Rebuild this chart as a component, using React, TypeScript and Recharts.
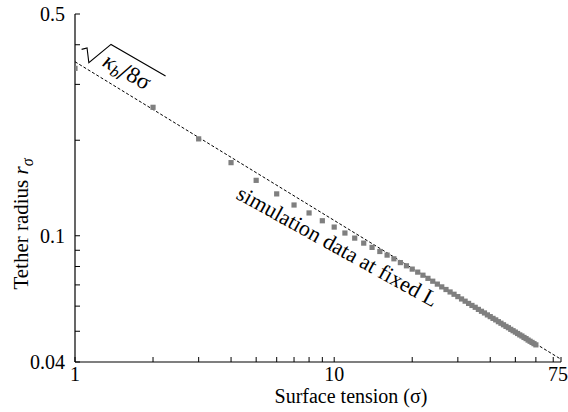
import React from 'react';
import { ComposedChart, XAxis, YAxis, Scatter, Line, ReferenceDot } from 'recharts';

const sigmaValues = [
  1, 2, 3, 4, 5, 6, 7, 8, 9, 10, 11, 12, 13, 14, 15, 16, 17, 18, 19, 20,
  21, 22, 23, 24, 25, 26, 27, 28, 29, 30, 31, 32, 33, 34, 35, 36, 37, 38, 39, 40,
  41, 42, 43, 44, 45, 46, 47, 48, 49, 50, 51, 52, 53, 54, 55, 56, 57, 58, 59, 60,
];
const radiusValues = [
  0.337, 0.254, 0.202, 0.170, 0.1495, 0.1355, 0.125, 0.118, 0.1115, 0.1065,
  0.102, 0.0983, 0.0948, 0.0919, 0.0892, 0.0869, 0.0846, 0.0823, 0.0804, 0.0785,
  0.0768, 0.0751, 0.0734, 0.0719, 0.0704, 0.069, 0.0677, 0.0665, 0.0654, 0.0643,
  0.0632, 0.0622, 0.0612, 0.0603, 0.0595, 0.0586, 0.0578, 0.0571, 0.0563, 0.0556,
  0.0549, 0.0543, 0.0536, 0.053, 0.0524, 0.0518, 0.0513, 0.0507, 0.0502, 0.0497,
  0.0492, 0.0487, 0.0483, 0.0478, 0.0474, 0.0469, 0.0465, 0.0461, 0.0457, 0.0453,
];
const theorySigma = [1, 75];
const theoryRadius = [0.3536, 0.0408];

const xTicks = [1, 2, 3, 4, 5, 6, 7, 8, 9, 10, 20, 30, 40, 50, 60, 70, 75];
const xLabeled = [1, 10, 75];
const yTicks = [0.04, 0.05, 0.06, 0.07, 0.08, 0.09, 0.1, 0.2, 0.3, 0.4, 0.5];
const yLabeled = [0.04, 0.1, 0.5];

const simData = sigmaValues.map((s, i) => ({ sigma: s, r: radiusValues[i] }));
const theoryData = theorySigma.map((s, i) => ({ sigma: s, r: theoryRadius[i] }));

const FONT = "'Liberation Serif', Tinos, 'Times New Roman', 'DejaVu Serif', serif";
const fontStyle = { fontFamily: FONT };

const Square = (p: any) => (
  <rect x={p.cx - 2.6} y={p.cy - 2.6} width={5.2} height={5.2} fill="#7f7f7f" />
);

const RadicalLabel = (p: any) => (
  <g transform={`translate(${p.cx},${p.cy}) rotate(30)`}>
    <path d="M -23 19 L -19 15 L -10 27 L 0 0 L 63 0" fill="none" stroke="#000" strokeWidth={1.1} />
    <text x={2} y={23} fontSize={23} fill="#000" style={fontStyle}>
      <tspan fontStyle="italic">κ</tspan>
      <tspan fontStyle="italic" fontSize={16} dy={4}>b</tspan>
      <tspan fontSize={29} dy={0}>/</tspan>
      <tspan dy={-4}>8σ</tspan>
    </text>
  </g>
);

const SimLabel = (p: any) => (
  <text
    x={p.cx}
    y={p.cy}
    transform={`rotate(29, ${p.cx}, ${p.cy})`}
    textAnchor="middle"
    style={fontStyle}
    fontSize={22}
    fill="#000"
  >
    simulation data at fixed L
  </text>
);

const XTitle = (p: any) => {
  const vb = p.viewBox;
  return (
    <text x={vb.x + vb.width / 2 + 33} y={vb.y + 41} textAnchor="middle" style={fontStyle} fontSize={20} fill="#000">
      Surface tension (σ)
    </text>
  );
};

const YTitle = (p: any) => {
  const vb = p.viewBox;
  const cx = 28;
  const cy = vb.y + vb.height / 2 + 36;
  return (
    <text x={cx} y={cy} transform={`rotate(-90, ${cx}, ${cy})`} textAnchor="middle" style={fontStyle} fontSize={21} fill="#000">
      Tether radius <tspan fontStyle="italic">r</tspan>
      <tspan fontStyle="italic" fontSize={16} dy={5}>σ</tspan>
    </text>
  );
};

const XTick = (p: any) => {
  const v = p.payload.value;
  if (!xLabeled.includes(v)) return null;
  const shift = v === 75 ? -3 : 0;
  return (
    <text x={p.x + shift} y={p.y} dy="0.71em" textAnchor="middle" style={fontStyle} fontSize={20} fill="#000">
      {String(v)}
    </text>
  );
};

const YTick = (p: any) => {
  const v = p.payload.value;
  if (!yLabeled.includes(v)) return null;
  return (
    <text x={p.x} y={p.y} dy="0.355em" textAnchor="end" style={fontStyle} fontSize={20} fill="#000">
      {String(v)}
    </text>
  );
};

export default function App() {
  return (
    <div style={{ position: 'absolute', left: 0, top: 0, background: '#fff' }}>
      <ComposedChart width={568} height={412} margin={{ top: 14, right: 7, bottom: 0, left: 0 }}>
        <XAxis
          xAxisId="b"
          dataKey="sigma"
          type="number"
          scale="log"
          domain={[1, 75]}
          allowDataOverflow
          ticks={xTicks}
          interval={0}
          tickSize={-5}
          tickMargin={10}
          tick={<XTick />}
          height={50}
          stroke="#000"
          tickLine={{ stroke: '#000' }}
          axisLine={{ stroke: '#000', strokeWidth: 1.2 }}
          label={<XTitle />}
        />
        <XAxis
          xAxisId="t"
          orientation="top"
          dataKey="sigma"
          type="number"
          scale="log"
          domain={[1, 75]}
          allowDataOverflow
          ticks={xTicks}
          interval={0}
          tick={false}
          tickSize={-5}
          height={0}
          stroke="#000"
          axisLine={{ stroke: '#000', strokeWidth: 1.2 }}
        />
        <YAxis
          yAxisId="l"
          dataKey="r"
          type="number"
          scale="log"
          domain={[0.04, 0.5]}
          allowDataOverflow
          ticks={yTicks}
          interval={0}
          tickSize={-5}
          tickMargin={15}
          tick={<YTick />}
          width={75}
          stroke="#000"
          axisLine={{ stroke: '#000', strokeWidth: 1.2 }}
          label={<YTitle />}
        />
        <YAxis
          yAxisId="r"
          orientation="right"
          dataKey="r"
          type="number"
          scale="log"
          domain={[0.04, 0.5]}
          allowDataOverflow
          ticks={yTicks}
          interval={0}
          tick={false}
          tickSize={-5}
          width={0}
          stroke="#000"
          axisLine={{ stroke: '#000', strokeWidth: 1.2 }}
        />
        <Scatter
          xAxisId="b"
          yAxisId="l"
          data={simData}
          dataKey="r"
          shape={Square}
          isAnimationActive={false}
        />
        <Line
          xAxisId="b"
          yAxisId="l"
          data={theoryData}
          dataKey="r"
          type="linear"
          stroke="#000"
          strokeWidth={1}
          strokeDasharray="3 2"
          dot={false}
          activeDot={false}
          isAnimationActive={false}
        />
        <ReferenceDot xAxisId="b" yAxisId="l" x={1.377} y={0.401} shape={RadicalLabel} />
        <ReferenceDot xAxisId="b" yAxisId="l" x={9.98} y={0.0884} shape={SimLabel} />
      </ComposedChart>
    </div>
  );
}
